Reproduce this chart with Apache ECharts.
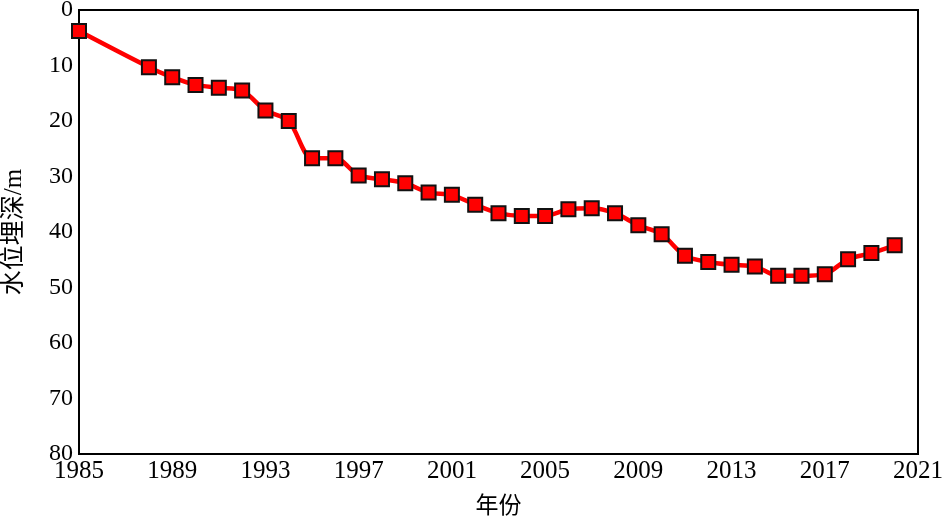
<!DOCTYPE html>
<html lang="zh">
<head>
    <meta charset="UTF-8">
    <title>水位埋深</title>
    <script src="https://cdn.jsdelivr.net/npm/echarts@6/dist/echarts.min.js"></script>
    <style>
        html, body { margin: 0; padding: 0; background: #fff; }
        #chart1 { width: 947px; height: 516px; }
    </style>
</head>
<body>
<div id="chart1"></div>
<script>
    var years = [1985, 1988, 1989, 1990, 1991, 1992, 1993, 1994, 1995, 1996, 1997, 1998,
        1999, 2000, 2001, 2002, 2003, 2004, 2005, 2006, 2007, 2008, 2009, 2010, 2011,
        2012, 2013, 2014, 2015, 2016, 2017, 2018, 2019, 2020];
    var depths = [3.8, 10.3, 12.1, 13.5, 14.0, 14.5, 18.1, 20.0, 26.7, 26.7, 29.8, 30.5,
        31.2, 32.9, 33.3, 35.1, 36.6, 37.1, 37.1, 35.9, 35.7, 36.6, 38.8, 40.4, 44.3,
        45.4, 45.9, 46.2, 47.9, 47.9, 47.6, 44.9, 43.8, 42.4];

    var points = years.map(function (y, i) { return [y, depths[i]]; });
    var fontFamily = '"Liberation Serif", "Times New Roman", "Noto Sans CJK SC", serif';

    var ctx1 = echarts.init(document.getElementById('chart1'));
    ctx1.setOption({
        animation: false,
        grid: {
            left: 79, top: 10, right: 29, bottom: 62,
            outerBoundsMode: 'none',
            containLabel: false,
            show: true, borderColor: '#000', borderWidth: 2
        },
        xAxis: {
            type: 'value',
            min: 1985, max: 2021, interval: 4,
            name: '年份',
            nameLocation: 'middle',
            nameGap: 41,
            nameTextStyle: { fontSize: 23, color: '#000', fontFamily: fontFamily },
            axisLine: { show: true, lineStyle: { color: '#000', width: 2 } },
            axisTick: { show: false },
            splitLine: { show: false },
            axisLabel: {
                fontSize: 25, color: '#000', fontFamily: fontFamily, margin: 5,
                formatter: function (v) { return String(v); }
            }
        },
        yAxis: {
            type: 'value',
            inverse: true,
            min: 0, max: 80, interval: 10,
            name: '水位埋深/m',
            nameLocation: 'middle',
            nameGap: 52,
            nameTextStyle: { fontSize: 25, color: '#000', fontFamily: fontFamily },
            axisLine: { show: true, lineStyle: { color: '#000', width: 2 } },
            axisTick: { show: false },
            splitLine: { show: false },
            axisLabel: { fontSize: 24, color: '#000', fontFamily: fontFamily, margin: 6 }
        },
        series: [{
            type: 'line',
            data: points,
            smooth: 0.3,
            symbol: 'rect',
            symbolSize: 14,
            lineStyle: { color: '#ff0000', width: 4.5 },
            itemStyle: { color: '#ff0000', borderColor: '#111', borderWidth: 2 }
        }]
    });
</script>
</body>
</html>
